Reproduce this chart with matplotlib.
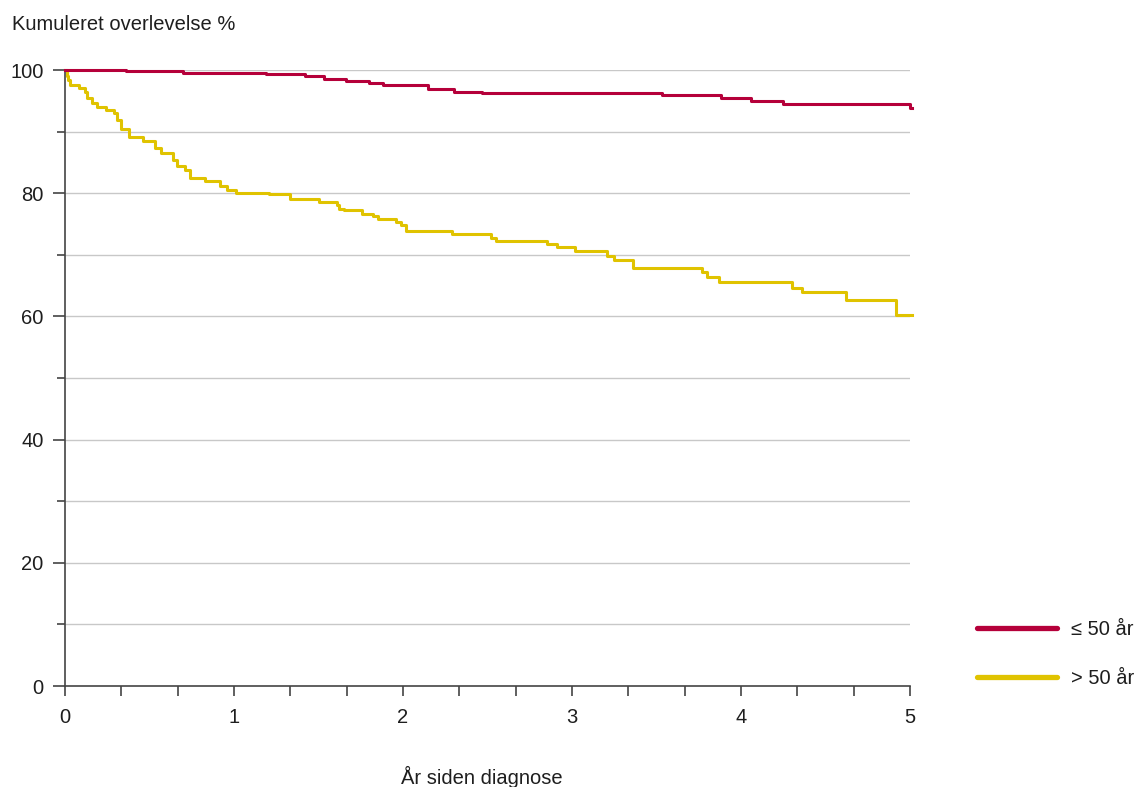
import matplotlib
matplotlib.use("Agg")
import matplotlib.pyplot as plt
from matplotlib.lines import Line2D
from matplotlib.ticker import MultipleLocator, FixedLocator

plt.rcParams['font.family'] = ['Liberation Sans', 'DejaVu Sans']

# Kaplan-Meier step data: time in years, cumulative survival in %
years_young = [0, 0.36, 0.70, 1.19, 1.42, 1.53, 1.66, 1.80, 1.88, 2.15, 2.30,
               2.47, 3.53, 3.88, 4.06, 4.25, 5.00, 5.01]
surv_young = [100, 99.8, 99.5, 99.3, 99.0, 98.5, 98.2, 97.9, 97.5, 96.9, 96.5,
              96.2, 95.9, 95.4, 94.9, 94.5, 93.8, 93.8]

years_old = [0, 0.01, 0.02, 0.03, 0.08, 0.12, 0.13, 0.16, 0.19, 0.24,
             0.29, 0.31, 0.33, 0.38, 0.46, 0.53, 0.57, 0.64, 0.66, 0.71,
             0.74, 0.83, 0.92, 0.96, 1.01, 1.21, 1.33, 1.50, 1.61, 1.62,
             1.65, 1.76, 1.82, 1.85, 1.96, 1.99, 2.02, 2.29, 2.52, 2.55,
             2.85, 2.91, 3.02, 3.21, 3.25, 3.36, 3.77, 3.80, 3.87, 4.30,
             4.36, 4.62, 4.92, 5.01]
surv_old = [100, 99.0, 98.4, 97.6, 97.0, 96.4, 95.4, 94.7, 94.0, 93.5,
            93.1, 91.9, 90.5, 89.2, 88.4, 87.3, 86.6, 85.4, 84.4, 83.8,
            82.4, 82.0, 81.2, 80.5, 80.1, 79.8, 79.0, 78.5, 78.1, 77.5,
            77.2, 76.7, 76.3, 75.8, 75.3, 74.8, 73.9, 73.4, 72.8, 72.3,
            71.8, 71.2, 70.6, 69.8, 69.2, 67.9, 67.2, 66.4, 65.6, 64.6,
            63.9, 62.7, 60.2, 60.2]

group_labels = ["\u2264 50 år", "> 50 år"]
x_ticklabels = ["0", "1", "2", "3", "4", "5"]
y_ticklabels = ["0", "20", "40", "60", "80", "100"]

RED = "#b5003a"
YELLOW = "#e0c300"
TEXT = "#1e1e1e"
AXIS = "#444444"
GRID = "#c8c8c8"
FS = 14.5

fig = plt.figure(figsize=(11.41, 7.87), dpi=100)
ax = fig.add_axes([65 / 1141, 1 - 686 / 787, 845 / 1141, 616 / 787])

ax.set_xlim(0, 5)
ax.set_ylim(0, 100)

# horizontal grid every 10 %
for yv in range(10, 101, 10):
    ax.axhline(yv, color=GRID, lw=1.0, zorder=1)

ax.step(years_young, surv_young, where='post', color=RED, lw=2.2,
        zorder=3, clip_on=False)
ax.step(years_old, surv_old, where='post', color=YELLOW, lw=2.2,
        zorder=2, clip_on=False)

for side in ['top', 'right']:
    ax.spines[side].set_visible(False)
ax.spines['left'].set_color(AXIS)
ax.spines['bottom'].set_color(AXIS)
ax.spines['left'].set_linewidth(1.2)
ax.spines['bottom'].set_linewidth(1.2)

ax.xaxis.set_major_locator(FixedLocator(range(6)))
ax.set_xticklabels(x_ticklabels)
ax.xaxis.set_minor_locator(MultipleLocator(1 / 3))
ax.yaxis.set_major_locator(FixedLocator(range(0, 101, 20)))
ax.set_yticklabels(y_ticklabels)
ax.yaxis.set_minor_locator(MultipleLocator(10))

ax.tick_params(axis='x', which='both', direction='out', length=7.5, width=1.2,
               color=AXIS, labelsize=FS, labelcolor=TEXT, pad=8)
ax.tick_params(axis='y', which='major', direction='out', length=8.5, width=1.2,
               color=AXIS, labelsize=FS, labelcolor=TEXT, pad=7)
ax.tick_params(axis='y', which='minor', direction='out', length=5.8, width=1.2,
               color=AXIS)

fig.text(12 / 1141, 1 - 25 / 787, "Kumuleret overlevelse %", fontsize=FS,
         color=TEXT, ha='left', va='center')
fig.text(482 / 1141, 1 - 777 / 787, "År siden diagnose", fontsize=FS,
         color=TEXT, ha='center', va='center')

handles = [Line2D([], [], color=RED, lw=3.8, solid_capstyle='round'),
           Line2D([], [], color=YELLOW, lw=3.8, solid_capstyle='round')]
fig.legend(handles, group_labels, loc='upper left',
           bbox_to_anchor=(977 / 1141, 1 - 620 / 787), frameon=False,
           fontsize=FS, labelcolor=TEXT, handlelength=3.95, handletextpad=0.7,
           borderpad=0, borderaxespad=0, labelspacing=1.5)

fig.savefig("out.png", dpi=100, facecolor="white")
